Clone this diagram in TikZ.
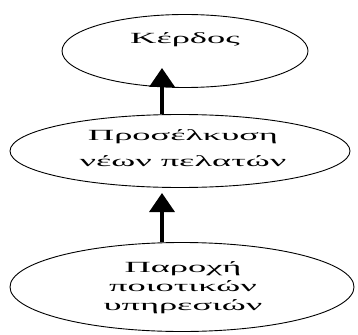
\documentclass[tikz,border=0pt]{standalone}
\usepackage{fontspec}
\setmainfont{Liberation Serif}
\newfontfamily\widefont[FakeStretch=2.35]{Liberation Serif}
\usetikzlibrary{shapes.geometric,arrows.meta,calc}
\begin{document}
\begin{tikzpicture}[x=1pt,y=-1pt,
  oval/.style={draw=black,line width=0.9pt,ellipse,inner sep=0pt},
  txt/.style={inner sep=0pt,align=center,font=\widefont\fontsize{15.5}{26}\selectfont},
  arr/.style={line width=3.5pt,-{Triangle[length=19pt,width=25pt]}}]
\useasboundingbox[fill=white] (0,0) rectangle (358,334);
\node[oval,minimum width=246,minimum height=73] (k) at (185,51) {};
\node[oval,minimum width=340,minimum height=73] (p) at (180,151) {};
\node[oval,minimum width=344,minimum height=89] (s) at (182,287) {};
\node[txt] (kt) at (185,40) {Κέρδος};
\node[txt] (pt) at (183,148) {Προσέλκυση\\νέων πελατών};
\node[txt,font=\widefont\fontsize{15.5}{19}\selectfont] (st) at (183,288) {Παροχή\\ποιοτικών\\υπηρεσιών};
\coordinate (t1) at (162,68);
\coordinate (t2) at (162,193);
\draw[arr] (t1 |- p.north) -- (t1);
\draw[arr] (t2 |- s.north) -- (t2);
\end{tikzpicture}
\end{document}
